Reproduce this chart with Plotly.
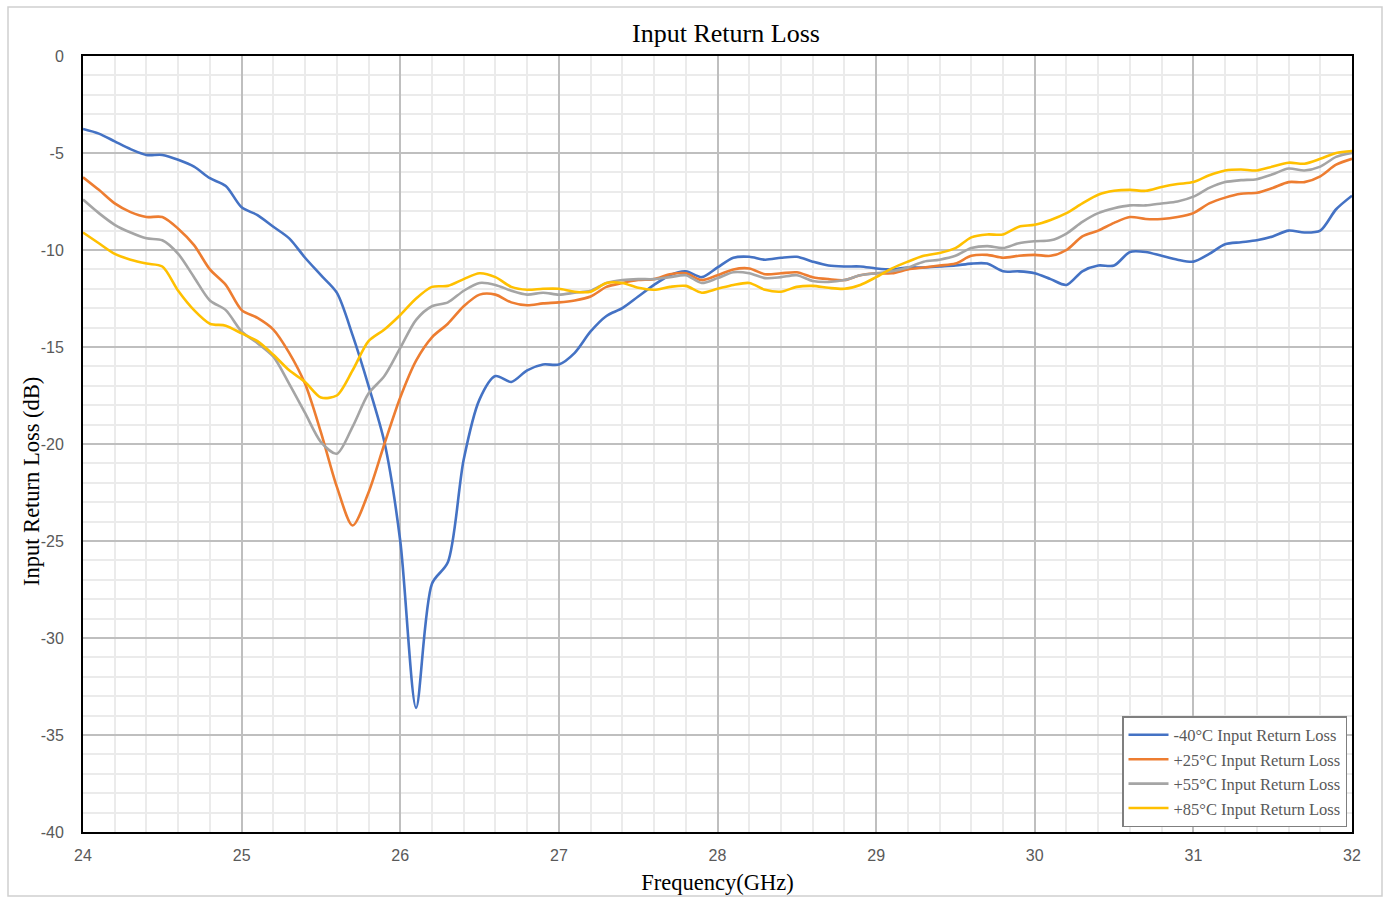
import plotly.graph_objects as go

# Frequency grid (GHz), 0.1 GHz step from 24 to 32
freq = [round(24 + 0.1 * i, 1) for i in range(81)]

rl_m40 = [
    -3.76, -4.0, -4.4, -4.8, -5.1, -5.1, -5.35, -5.7, -6.3, -6.7,
    -7.8, -8.2, -8.8, -9.4, -10.4, -11.3, -12.2, -14.4, -17.0, -19.9,
    -25.0, -33.6, -27.2, -26.1, -20.8, -17.7, -16.5, -16.8, -16.2, -15.9,
    -15.9, -15.3, -14.2, -13.4, -13.0, -12.4, -11.8, -11.3, -11.1, -11.4,
    -10.9, -10.4, -10.35, -10.5, -10.4, -10.35, -10.6, -10.8, -10.85, -10.85,
    -10.95, -11.0, -10.9, -10.9, -10.85, -10.8, -10.7, -10.7, -11.1, -11.1,
    -11.2, -11.5, -11.8, -11.1, -10.8, -10.8, -10.1, -10.1, -10.3, -10.5,
    -10.6, -10.2, -9.7, -9.6, -9.5, -9.3, -9.0, -9.1, -9.0, -7.9,
    -7.2,
]

rl_p25 = [
    -6.25, -6.9, -7.6, -8.05, -8.3, -8.3, -8.9, -9.75, -11.0, -11.8,
    -13.1, -13.5, -14.1, -15.3, -16.9, -19.4, -22.2, -24.2, -22.5, -20.0,
    -17.6, -15.7, -14.5, -13.8, -12.9, -12.3, -12.3, -12.7, -12.85, -12.75,
    -12.7, -12.6, -12.4, -11.9, -11.7, -11.55, -11.5, -11.25, -11.2, -11.55,
    -11.3, -11.0, -10.95, -11.25, -11.2, -11.15, -11.4, -11.5, -11.55, -11.3,
    -11.2, -11.2, -11.0, -10.9, -10.8, -10.7, -10.3, -10.25, -10.4, -10.3,
    -10.25, -10.3, -10.0, -9.3, -9.0, -8.6, -8.3, -8.4, -8.4, -8.3,
    -8.1, -7.6, -7.3, -7.1, -7.05, -6.8, -6.5, -6.5, -6.2, -5.6,
    -5.3,
]

rl_p55 = [
    -7.4, -8.1, -8.7, -9.1, -9.4, -9.5, -10.2, -11.4, -12.6, -13.1,
    -14.2, -14.8, -15.5, -16.9, -18.4, -19.9, -20.5, -19.1, -17.4, -16.5,
    -15.05, -13.6, -12.9, -12.7, -12.1, -11.7, -11.8, -12.1, -12.3, -12.2,
    -12.3, -12.2, -12.1, -11.7, -11.55, -11.5, -11.5, -11.4, -11.3, -11.7,
    -11.45, -11.15, -11.2, -11.45, -11.4, -11.3, -11.6, -11.65, -11.55, -11.3,
    -11.2, -11.1, -10.9, -10.6, -10.5, -10.3, -9.9, -9.8, -9.9, -9.65,
    -9.55, -9.5, -9.15, -8.55, -8.1, -7.85, -7.7, -7.7, -7.6, -7.5,
    -7.25, -6.8, -6.5, -6.4, -6.35, -6.1, -5.8, -5.9, -5.7, -5.2,
    -5.0,
]

rl_p85 = [
    -9.1, -9.65, -10.2, -10.5, -10.7, -10.85, -12.1, -13.1, -13.8, -13.9,
    -14.3, -14.7, -15.4, -16.2, -16.8, -17.6, -17.5, -16.2, -14.7, -14.1,
    -13.35, -12.5, -11.9, -11.85, -11.5, -11.2, -11.4, -11.9, -12.05, -12.0,
    -12.0, -12.15, -12.15, -11.7, -11.7, -11.95, -12.05, -11.9, -11.85, -12.2,
    -12.0, -11.8, -11.7, -12.05, -12.15, -11.9, -11.85, -11.95, -12.0, -11.8,
    -11.4, -10.95, -10.6, -10.3, -10.15, -9.9, -9.35, -9.2, -9.2, -8.8,
    -8.7, -8.45, -8.1, -7.6, -7.15, -6.95, -6.9, -6.95, -6.75, -6.6,
    -6.5, -6.15, -5.9, -5.85, -5.9, -5.7, -5.5, -5.55, -5.3, -5.0,
    -4.9,
]

series_names = [
    "-40°C Input Return Loss",
    "+25°C Input Return Loss",
    "+55°C Input Return Loss",
    "+85°C Input Return Loss",
]
series_values = [rl_m40, rl_p25, rl_p55, rl_p85]
series_colors = ["#4472C4", "#ED7D31", "#A5A5A5", "#FFC000"]

x_ticks = [24, 25, 26, 27, 28, 29, 30, 31, 32]
y_ticks = [0, -5, -10, -15, -20, -25, -30, -35, -40]

# Minor grid positions: 0.2 GHz and 1 dB subdivisions between major ticks
x_minor = [round(24 + 0.2 * i, 1) for i in range(41) if i % 5]
y_minor = [-i for i in range(41) if i % 5]

fig = go.Figure()
for name, vals, col in zip(series_names, series_values, series_colors):
    fig.add_trace(go.Scatter(
        x=freq, y=vals, name=name, mode="lines",
        line=dict(color=col, width=2.6, shape="spline", smoothing=0.8),
    ))

W, H = 1389, 899
ML, MR, MT, MB = 83, 37, 56, 67
PW, PH = W - ML - MR, H - MT - MB


def px_to_paper_x(px):
    return (px - ML) / PW


def py_to_paper_y(py):
    return (H - py - MB) / PH


serif = "Liberation Serif, Times New Roman, serif"
sans = "Liberation Sans, Arial, sans-serif"

fig.update_layout(
    width=W, height=H,
    margin=dict(l=ML, r=MR, t=MT, b=MB, autoexpand=False),
    paper_bgcolor="white", plot_bgcolor="white",
    showlegend=True,
    title=dict(
        text="Input Return Loss",
        font=dict(family=serif, size=26, color="#000000"),
        x=px_to_paper_x(726), xref="paper", xanchor="center",
        y=1 - 33 / H, yref="container", yanchor="middle",
    ),
    legend=dict(
        x=px_to_paper_x(1347), y=py_to_paper_y(827),
        xanchor="right", yanchor="bottom",
        bgcolor="white", bordercolor="#7F7F7F", borderwidth=1.5,
        font=dict(family=serif, size=16.5, color="#595959"),
        tracegroupgap=0, itemwidth=40,
    ),
    xaxis=dict(
        range=[24, 32], tickmode="array", tickvals=x_ticks, ticktext=[str(v) for v in x_ticks],
        showgrid=True, gridcolor="#BFBFBF", gridwidth=2,
        minor=dict(tickmode="array", tickvals=x_minor, showgrid=True,
                   gridcolor="#EBEBEB", gridwidth=1.5, ticks=""),
        showline=True, linecolor="#000000", linewidth=2, mirror=True,
        ticks="", zeroline=False, automargin=False,
        tickfont=dict(family=sans, size=16, color="#595959"),
        ticklabelstandoff=8,
        title=dict(text="Frequency(GHz)", font=dict(family=serif, size=22.5, color="#000000"), standoff=11),
    ),
    yaxis=dict(
        range=[-40, 0], tickmode="array", tickvals=y_ticks, ticktext=[str(v) for v in y_ticks],
        showgrid=True, gridcolor="#BFBFBF", gridwidth=2,
        minor=dict(tickmode="array", tickvals=y_minor, showgrid=True,
                   gridcolor="#EBEBEB", gridwidth=1.5, ticks=""),
        showline=True, linecolor="#000000", linewidth=2, mirror=True,
        ticks="", zeroline=False, automargin=False,
        tickfont=dict(family=sans, size=16, color="#595959"),
        ticklabelstandoff=14,
    ),
    annotations=[dict(
        text="Input Return Loss (dB)", textangle=-90,
        xref="paper", yref="paper",
        x=px_to_paper_x(31), y=py_to_paper_y(482),
        xanchor="center", yanchor="middle", showarrow=False,
        font=dict(family=serif, size=22.5, color="#000000"),
    )],
    shapes=[dict(
        type="rect", xref="paper", yref="paper",
        x0=px_to_paper_x(8), x1=px_to_paper_x(1382),
        y0=py_to_paper_y(896), y1=py_to_paper_y(7),
        line=dict(color="#D0D0D0", width=1.5), fillcolor="rgba(0,0,0,0)",
        layer="below",
    )],
)

fig.write_html("out.html")
